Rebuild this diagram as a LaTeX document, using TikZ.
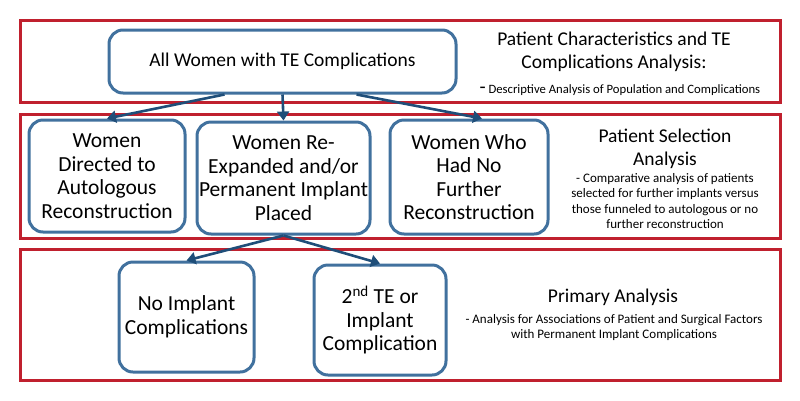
\documentclass[tikz,border=0pt]{standalone}
\usepackage{fontspec}
\setmainfont{Carlito}
\usetikzlibrary{arrows.meta}
\definecolor{frame}{RGB}{192, 32, 46}
\definecolor{boxline}{RGB}{65, 113, 158}
\definecolor{flow}{RGB}{31, 78, 121}

\tikzset{
  stage/.style={draw=boxline, line width=3pt, rounded corners=14pt, fill=white,
    align=center, font=\fontsize{21.5}{23.5}\selectfont, inner sep=1pt},
  head/.style={align=center, font=\fontsize{19.5}{23}\selectfont},
  note/.style={align=center, font=\fontsize{13}{15.5}\selectfont},
  flowline/.style={draw=flow, line width=2.6pt, -{Triangle[length=9pt, width=12pt]}}
}

\begin{document}
\begin{tikzpicture}[x=1pt, y=-1pt]
  \useasboundingbox (0, 0) rectangle (800, 400);

  % Frames
  \draw [line width=3pt, color=frame] (20, 20) rectangle (780, 102);
  \draw [line width=3pt, color=frame] (20, 114) rectangle (780, 238);
  \draw [line width=3pt, color=frame] (20, 249) rectangle (780, 380);

  % Top
  \node [stage, minimum width=347, minimum height=63, font=\fontsize{19.5}{23}\selectfont]
    (all) at (282.5, 61.5) {All Women with TE Complications};
  \node [head] (charhead) at (614, 52) {Patient Characteristics and TE\\Complications Analysis:};
  \node [note, anchor=west, font=\fontsize{12.7}{15}\selectfont] (chardesc) at (476, 90)
    {{\fontsize{20}{20}\selectfont -} Descriptive Analysis of Population and Complications};

  % Selection
  \node [stage, minimum width=156, minimum height=112] (auto) at (107, 176)
    {Women\\Directed to\\Autologous\\Reconstruction};
  \node [stage, minimum width=173, minimum height=112] (reexp) at (283.5, 178)
    {Women Re-\\Expanded and/or\\Permanent Implant\\Placed};
  \node [stage, minimum width=158, minimum height=114] (nofurther) at (469, 177)
    {Women Who\\Had No\\Further\\Reconstruction};
  \node [head] (selhead) at (665, 149) {Patient Selection\\Analysis};
  \node [note] (seldesc) at (665, 201)
    {- Comparative analysis of patients\\selected for further implants versus\\those funneled to autologous or no\\further reconstruction};

  % Primary
  \node [stage, minimum width=135, minimum height=110] (noimpl) at (186.5, 317)
    {No Implant\\Complications};
  \node [stage, minimum width=132, minimum height=110] (second) at (380, 320)
    {2\textsuperscript{nd} TE or\\Implant\\Complication};
  \node [head] (primhead) at (613, 297) {Primary Analysis};
  \node [note] (primdesc) at (614, 327.5)
    {- Analysis for Associations of Patient and Surgical Factors\\with Permanent Implant Complications};

  % Arrows
  \draw [flowline] ([xshift=-58pt]all.south) -- (auto.north);
  \draw [flowline] (all.south) -- (reexp.north);
  \draw [flowline] ([xshift=74pt]all.south) -- ([xshift=13pt]nofurther.north);
  \draw [flowline] (reexp.south) -- (noimpl.north);
  \draw [flowline] (reexp.south) -- (second.north);
\end{tikzpicture}
\end{document}
